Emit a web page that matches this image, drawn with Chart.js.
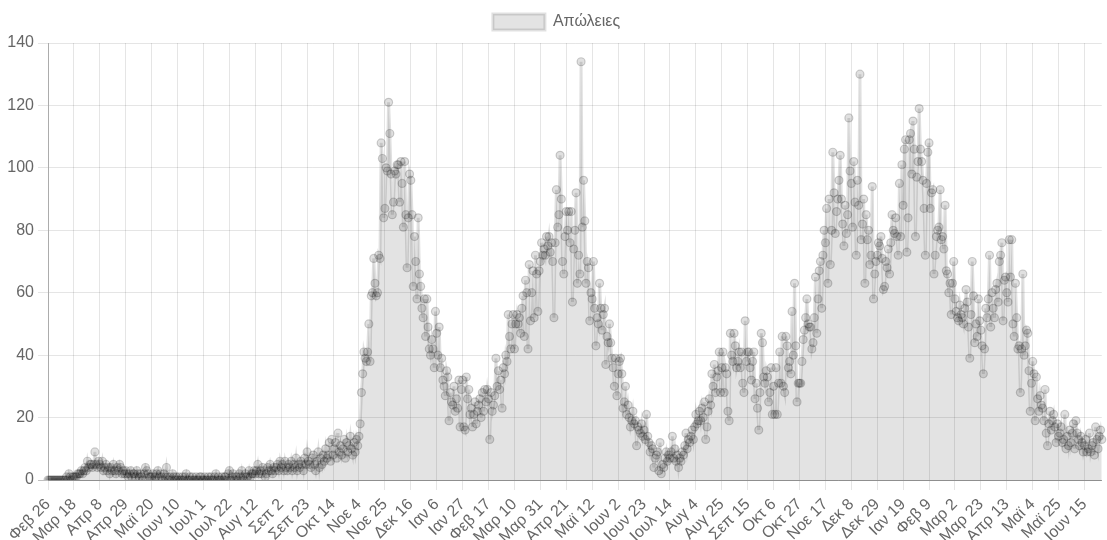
<!DOCTYPE html>
<html>
<head>
<meta charset="utf-8">
<script src="https://cdn.jsdelivr.net/npm/chart.js@4"></script>
<style>
  html, body { margin: 0; padding: 0; background: #fff; }
  #wrap { width: 1107px; height: 540px; }
</style>
</head>
<body>
<div id="wrap"><canvas id="deathsChart" width="1107" height="540"></canvas></div>
<script>
// daily deaths, one line per 21-day block, starting Feb 26 2020
var deaths = [
  0,0,0,0,0,0,0,0,0,0,0,0,0,0,0,1,0,2,1,0,1,
  1,1,1,2,2,2,3,2,3,4,3,6,4,5,5,4,5,9,5,4,6,
  5,4,6,3,4,5,3,4,2,4,3,5,3,2,4,3,5,4,2,3,2,
  3,2,1,2,3,1,2,2,1,3,2,1,2,1,0,2,4,3,2,1,1,
  1,2,0,1,2,3,1,2,1,0,2,1,4,1,0,1,0,2,1,0,1,
  0,1,0,0,1,0,1,2,0,0,1,0,1,0,0,1,0,0,1,1,0,
  0,1,0,0,1,0,1,0,0,1,2,0,1,0,0,1,0,1,1,0,2,
  3,0,1,2,0,1,1,0,2,1,3,1,0,2,1,1,3,1,2,2,3,
  2,3,5,2,3,2,4,3,1,2,4,3,5,3,2,4,3,4,5,3,6,
  4,5,3,6,4,3,5,4,6,3,5,4,7,3,5,4,6,5,3,7,5,
  9,6,5,4,7,8,5,3,6,9,4,7,5,8,6,10,7,8,12,6,13,
  8,10,12,7,15,9,11,8,10,13,7,12,9,11,14,10,8,12,9,13,11,
  14,18,28,34,41,39,38,41,50,38,59,60,71,63,59,60,72,71,108,103,84,
  87,100,99,121,111,98,85,89,99,98,101,101,89,102,95,81,102,85,68,84,98,
  96,85,62,78,70,58,84,66,62,55,52,58,46,58,49,42,40,45,42,36,54,
  47,40,49,36,39,32,30,27,35,33,19,28,25,24,30,22,26,23,32,17,29,
  32,17,16,33,26,29,21,23,17,21,25,18,22,24,26,20,28,22,29,25,29,
  26,13,28,22,24,27,39,30,35,29,32,23,36,34,40,38,53,46,42,50,53,
  42,50,53,50,52,47,55,59,46,64,60,42,69,51,60,67,52,72,66,54,67,
  70,76,72,74,72,78,75,78,73,76,70,52,76,93,81,85,104,90,70,66,78,
  86,80,86,76,86,57,74,80,92,63,72,66,134,81,96,83,63,70,68,51,60,
  58,70,55,43,52,50,63,55,48,53,55,37,46,44,50,44,39,36,30,39,27,
  34,38,39,34,23,25,30,21,24,20,17,19,22,18,19,11,17,16,15,18,14,
  16,13,21,14,12,9,11,10,4,7,8,9,3,12,2,5,4,7,9,6,8,
  7,9,14,7,10,6,8,4,7,6,9,8,11,15,10,13,12,14,16,13,17,
  21,18,19,22,19,23,20,25,13,17,22,26,24,34,30,37,28,33,35,41,28,
  36,41,28,36,34,22,19,47,40,38,47,43,36,38,41,36,41,31,28,51,38,
  41,41,36,32,38,41,26,31,23,16,28,47,44,33,31,35,33,25,28,36,21,
  30,21,36,21,31,41,31,46,30,28,46,43,36,38,34,54,40,63,43,25,31,
  31,31,38,45,48,52,58,50,49,49,42,44,52,65,47,58,67,70,55,72,80,
  76,87,63,90,69,80,105,92,79,86,90,96,104,90,82,75,88,79,85,116,99,
  95,81,102,89,72,96,88,130,77,82,90,63,85,77,80,69,72,94,58,66,70,
  72,76,75,78,71,61,62,70,68,74,66,76,85,80,79,84,78,72,95,78,101,
  88,106,109,73,84,109,111,98,115,106,78,97,102,119,106,102,96,87,72,95,105,
  108,87,92,93,66,72,78,80,81,93,77,78,74,88,67,66,60,63,53,63,70,
  58,54,52,51,56,53,52,50,55,61,57,49,39,53,70,59,44,50,46,58,51,
  48,43,34,42,55,52,58,72,49,60,55,52,61,63,57,70,72,76,51,64,65,
  60,57,77,65,77,50,46,63,52,42,43,28,42,66,40,43,48,47,35,22,31,
  38,34,19,33,26,22,27,24,23,19,29,15,11,18,22,16,19,21,17,12,18,
  14,15,17,12,13,21,10,14,11,16,12,15,18,10,19,15,13,11,14,12,9,
  11,13,9,10,15,9,11,12,8,17,13,10,14,16,13
];
var monthNames = ['Ιαν','Φεβ','Μαρ','Απρ','Μαϊ','Ιουν','Ιουλ','Αυγ','Σεπ','Οκτ','Νοε','Δεκ'];
var yTicks = [0, 20, 40, 60, 80, 100, 120, 140];
var seriesLabel = 'Απώλειες';
var labelEvery = 21;

// one category label per day
var labels = [];
var start = Date.UTC(2020, 1, 26);
for (var i = 0; i < deaths.length; i++) {
  var d = new Date(start + i * 86400000);
  labels.push(monthNames[d.getUTCMonth()] + ' ' + d.getUTCDate());
}

Chart.defaults.font.family = "'Liberation Sans', Arial, Helvetica, sans-serif";
Chart.defaults.font.size = 16;
Chart.defaults.color = '#666';

// a little more room under the legend
var legendGap = {
  id: 'legendGap',
  beforeInit: function(chart) {
    var fit = chart.legend.fit;
    chart.legend.fit = function() {
      fit.bind(chart.legend)();
      this.height += 3;
    };
  }
};

var ctx = document.getElementById('deathsChart').getContext('2d');
var chart = new Chart(ctx, {
  type: 'line',
  plugins: [legendGap],
  data: {
    labels: labels,
    datasets: [{
      label: seriesLabel,
      data: deaths,
      fill: true,
      backgroundColor: 'rgba(0,0,0,0.11)',
      borderColor: 'rgba(0,0,0,0.12)',
      borderWidth: 3,
      tension: 0,
      pointRadius: 4,
      pointBorderWidth: 1.2,
      pointBackgroundColor: 'rgba(0,0,0,0.12)',
      pointBorderColor: 'rgba(0,0,0,0.18)'
    }]
  },
  options: {
    responsive: false,
    animation: false,
    devicePixelRatio: 1,
    layout: { padding: { left: 8, right: 2, top: 0, bottom: 0 } },
    plugins: {
      legend: {
        labels: { boxWidth: 52, boxHeight: 16, padding: 14 }
      },
      tooltip: { enabled: false }
    },
    scales: {
      x: {
        afterFit: function(scale) {
          scale.height = 60;
          scale.paddingRight = 0;
        },
        grid: {
          color: function(c) {
            return c.index % labelEvery === 0 ? 'rgba(0,0,0,0.1)' : 'rgba(0,0,0,0)';
          },
          tickLength: 10
        },
        border: { color: 'rgba(0,0,0,0.25)' },
        ticks: {
          autoSkip: false,
          maxRotation: 45,
          minRotation: 45,
          padding: 5,
          callback: function(value, index) {
            return index % labelEvery === 0 ? this.getLabelForValue(value) : '';
          }
        }
      },
      y: {
        min: yTicks[0],
        max: yTicks[yTicks.length - 1],
        afterFit: function(scale) { scale.width = 40; },
        ticks: { stepSize: yTicks[1] - yTicks[0], padding: 4 },
        grid: {
          color: function(c) {
            return c.tick && c.tick.value === 0 ? 'rgba(0,0,0,0.25)' : 'rgba(0,0,0,0.1)';
          },
          tickLength: 10
        },
        border: { color: 'rgba(0,0,0,0.25)' }
      }
    }
  }
});
</script>
</body>
</html>
